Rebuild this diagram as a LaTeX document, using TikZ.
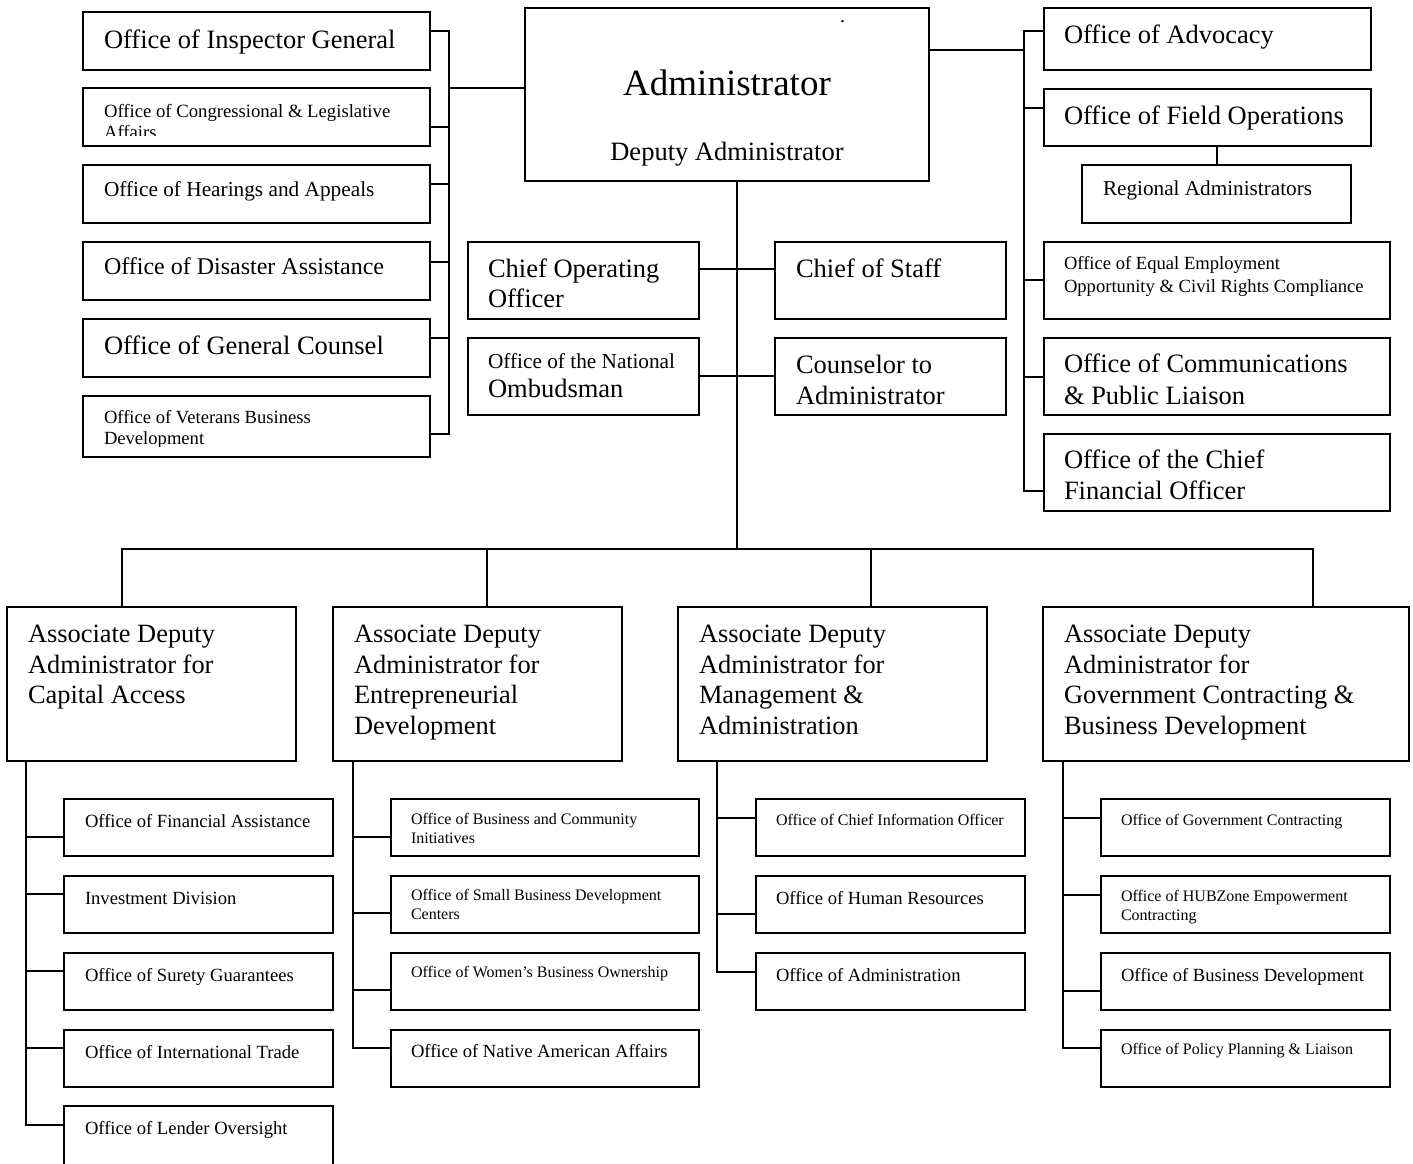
\documentclass[tikz,border=0pt]{standalone}
\usepackage{fontspec}
\setmainfont{Liberation Serif}
\usetikzlibrary{calc}
\newcommand\obox[5]{\node[bx,minimum width={(#4)-(#2)},minimum height={(#5)-(#3)},anchor=north west] (#1) at (#2,#3) {};}
\newcommand\otxt[6]{\node[tx,font=\fontsize{#4}{#5}\selectfont] (#1) at (#2,#3) {\begin{tabular}[t]{@{}l@{}}#6\end{tabular}};}
\begin{document}
\begin{tikzpicture}[x=1pt,y=-1pt,
  bx/.style={draw,line width=1.8pt,inner sep=0pt,outer sep=0pt},
  ln/.style={line width=1.8pt},
  tx/.style={anchor=base west,inner sep=0pt,outer sep=0pt}]
\useasboundingbox (0,0) rectangle (1413,1163);
\clip (0,0) rectangle (1413,1163);
% ---------- left column ----------
\obox{oig}{83}{12}{430}{70}
\obox{ocl}{83}{88}{430}{146}
\obox{oha}{83}{165}{430}{223}
\obox{oda}{83}{242}{430}{300}
\obox{ogc}{83}{319}{430}{377}
\obox{ovb}{83}{396}{430}{457}
\otxt{oigT}{104}{48}{26.5}{30}{Office of Inspector General}
\begin{scope}
\clip (83,88) rectangle (430,135);
\otxt{oclT}{104}{117.5}{18.7}{21}{Office of Congressional \& Legislative\\Affairs}
\end{scope}
\otxt{ohaT}{104}{196}{21.3}{24}{Office of Hearings and Appeals}
\otxt{odaT}{104}{274.5}{24}{28}{Office of Disaster Assistance}
\otxt{ogcT}{104}{354}{26.5}{30}{Office of General Counsel}
\begin{scope}
\clip (83,396) rectangle (430,446);
\otxt{ovbT}{104}{423.5}{18.6}{21}{Office of Veterans Business\\Development}
\end{scope}
\coordinate (lb1) at (449,31);
\coordinate (lb2) at (449,127);
\coordinate (lb3) at (449,184);
\coordinate (lb4) at (449,262);
\coordinate (lb5) at (449,338);
\coordinate (lb6) at (449,434);
\coordinate (lbA) at (449,88);
\draw[ln] (oig.east |- lb1) -- (lb1) -- (lb6) -- (ovb.east |- lb6);
\draw[ln] (ocl.east |- lb2) -- (lb2);
\draw[ln] (oha.east |- lb3) -- (lb3);
\draw[ln] (oda.east |- lb4) -- (lb4);
\draw[ln] (ogc.east |- lb5) -- (lb5);
% ---------- administrator ----------
\obox{adm}{525}{8}{929}{181}
\node[tx,anchor=base,font=\fontsize{37}{40}\selectfont] (admT) at (727,95) {Administrator};
\node[tx,anchor=base,font=\fontsize{26.5}{30}\selectfont] (depT) at (727,160) {Deputy Administrator};
\node[tx,font=\fontsize{20}{20}\selectfont] (dot) at (840,22) {.};
\draw[ln] (lbA) -- (adm.west |- lbA);
% ---------- right column ----------
\obox{adv}{1044}{8}{1371}{70}
\obox{fop}{1044}{89}{1371}{146}
\obox{reg}{1082}{165}{1351}{223}
\obox{eeo}{1044}{242}{1390}{319}
\obox{ocp}{1044}{338}{1390}{415}
\obox{cfo}{1044}{434}{1390}{511}
\otxt{advT}{1064}{43.5}{26.5}{30}{Office of Advocacy}
\otxt{fopT}{1064}{124.5}{26.5}{30}{Office of Field Operations}
\otxt{regT}{1103}{195.5}{21.2}{24}{Regional Administrators}
\otxt{eeoT}{1064}{269.5}{18.6}{23}{Office of Equal Employment\\Opportunity \& Civil Rights Compliance}
\otxt{ocpT}{1064}{372}{26.5}{32}{Office of Communications\\\& Public Liaison}
\otxt{cfoT}{1064}{468}{26.5}{31}{Office of the Chief\\Financial Officer}
\coordinate (rbA) at (1024,50);
\coordinate (rb1) at (1024,31);
\coordinate (rb2) at (1024,108);
\coordinate (rb3) at (1024,280);
\coordinate (rb4) at (1024,377);
\coordinate (rb5) at (1024,491);
\coordinate (fr) at (1217,0);
\draw[ln] (adm.east |- rbA) -- (rbA);
\draw[ln] (adv.west |- rb1) -- (rb1) -- (rb5) -- (cfo.west |- rb5);
\draw[ln] (fop.west |- rb2) -- (rb2);
\draw[ln] (eeo.west |- rb3) -- (rb3);
\draw[ln] (ocp.west |- rb4) -- (rb4);
\draw[ln] (fop.south -| fr) -- (reg.north -| fr);
% ---------- centre ----------
\obox{coo}{468}{242}{699}{319}
\obox{cos}{775}{242}{1006}{319}
\obox{omb}{468}{338}{699}{415}
\obox{cns}{775}{338}{1006}{415}
\otxt{cooT}{488}{277.5}{26.5}{30}{Chief Operating\\Officer}
\otxt{cosT}{796}{277.5}{26.5}{30}{Chief of Staff}
\otxt{ombT}{488}{368.5}{21.3}{24}{Office of the National}
\otxt{ombT2}{488}{397.5}{26.5}{30}{Ombudsman}
\otxt{cnsT}{796}{373.5}{26.5}{30.6}{Counselor to\\Administrator}
\coordinate (sp) at (737,549);
\coordinate (c1) at (737,269);
\coordinate (c2) at (737,376);
\draw[ln] (adm.south -| sp) -- (sp);
\draw[ln] (coo.east |- c1) -- (cos.west |- c1);
\draw[ln] (omb.east |- c2) -- (cns.west |- c2);
% ---------- associate deputy administrators ----------
\obox{ada1}{7}{607}{296}{761}
\obox{ada2}{333}{607}{622}{761}
\obox{ada3}{678}{607}{987}{761}
\obox{ada4}{1043}{607}{1409}{761}
\otxt{ada1T}{28}{642.5}{26.4}{30.7}{Associate Deputy\\Administrator for\\Capital Access}
\otxt{ada2T}{354}{642.5}{26.4}{30.7}{Associate Deputy\\Administrator for\\Entrepreneurial\\Development}
\otxt{ada3T}{699}{642.5}{26.4}{30.7}{Associate Deputy\\Administrator for\\Management \&\\Administration}
\otxt{ada4T}{1064}{642.5}{26.4}{30.7}{Associate Deputy\\Administrator for\\Government Contracting \&\\Business Development}
\coordinate (bb1) at (122,549);
\coordinate (bb2) at (487,549);
\coordinate (bb3) at (871,549);
\coordinate (bb4) at (1313,549);
\draw[ln] (ada1.north -| bb1) -- (bb1) -- (bb4) -- (ada4.north -| bb4);
\draw[ln] (bb2) -- (ada2.north -| bb2);
\draw[ln] (bb3) -- (ada3.north -| bb3);
% ---------- column 1 ----------
\obox{ofa}{64}{799}{333}{856}
\obox{ind}{64}{876}{333}{933}
\obox{osg}{64}{953}{333}{1010}
\obox{oit}{64}{1030}{333}{1087}
\obox{olo}{64}{1106}{333}{1190}
\otxt{ofaT}{85}{827}{18.6}{21}{Office of Financial Assistance}
\otxt{indT}{85}{904}{18.6}{21}{Investment Division}
\otxt{osgT}{85}{981}{18.6}{21}{Office of Surety Guarantees}
\otxt{oitT}{85}{1058}{18.6}{21}{Office of International Trade}
\otxt{oloT}{85}{1134.5}{18.6}{21}{Office of Lender Oversight}
\coordinate (k1) at (26,837);
\coordinate (k2) at (26,894);
\coordinate (k3) at (26,971);
\coordinate (k4) at (26,1048);
\coordinate (k5) at (26,1125);
\draw[ln] (ada1.south -| k5) -- (k5) -- (olo.west |- k5);
\draw[ln] (k1) -- (ofa.west |- k1);
\draw[ln] (k2) -- (ind.west |- k2);
\draw[ln] (k3) -- (osg.west |- k3);
\draw[ln] (k4) -- (oit.west |- k4);
% ---------- column 2 ----------
\obox{obc}{391}{799}{699}{856}
\obox{osb}{391}{876}{699}{933}
\obox{owb}{391}{953}{699}{1010}
\obox{ona}{391}{1030}{699}{1087}
\otxt{obcT}{411}{824.5}{16}{18.5}{Office of Business and Community\\Initiatives}
\otxt{osbT}{411}{900.5}{16}{19}{Office of Small Business Development\\Centers}
\otxt{owbT}{411}{977}{16}{19}{Office of Women’s Business Ownership}
\otxt{onaT}{411}{1057.5}{18.6}{21}{Office of Native American Affairs}
\coordinate (m1) at (353,837);
\coordinate (m2) at (353,913);
\coordinate (m3) at (353,990);
\coordinate (m4) at (353,1048);
\draw[ln] (ada2.south -| m4) -- (m4) -- (ona.west |- m4);
\draw[ln] (m1) -- (obc.west |- m1);
\draw[ln] (m2) -- (osb.west |- m2);
\draw[ln] (m3) -- (owb.west |- m3);
% ---------- column 3 ----------
\obox{oci}{756}{799}{1025}{856}
\obox{ohr}{756}{876}{1025}{933}
\obox{oad}{756}{953}{1025}{1010}
\otxt{ociT}{776}{825.5}{16}{19}{Office of Chief Information Officer}
\otxt{ohrT}{776}{904}{18.6}{21}{Office of Human Resources}
\otxt{oadT}{776}{981.5}{18.6}{21}{Office of Administration}
\coordinate (p1) at (717,818);
\coordinate (p2) at (717,914);
\coordinate (p3) at (717,972);
\draw[ln] (ada3.south -| p3) -- (p3) -- (oad.west |- p3);
\draw[ln] (p1) -- (oci.west |- p1);
\draw[ln] (p2) -- (ohr.west |- p2);
% ---------- column 4 ----------
\obox{ogv}{1101}{799}{1390}{856}
\obox{ohz}{1101}{876}{1390}{933}
\obox{obd}{1101}{953}{1390}{1010}
\obox{opp}{1101}{1030}{1390}{1087}
\otxt{ogvT}{1121}{825.5}{16}{19}{Office of Government Contracting}
\otxt{ohzT}{1121}{901}{16}{19}{Office of HUBZone Empowerment\\Contracting}
\otxt{obdT}{1121}{981.5}{18.6}{21}{Office of Business Development}
\otxt{oppT}{1121}{1054.5}{16}{19}{Office of Policy Planning \& Liaison}
\coordinate (q1) at (1063,818);
\coordinate (q2) at (1063,895);
\coordinate (q3) at (1063,991);
\coordinate (q4) at (1063,1048);
\draw[ln] (ada4.south -| q4) -- (q4) -- (opp.west |- q4);
\draw[ln] (q1) -- (ogv.west |- q1);
\draw[ln] (q2) -- (ohz.west |- q2);
\draw[ln] (q3) -- (obd.west |- q3);
\end{tikzpicture}
\end{document}
